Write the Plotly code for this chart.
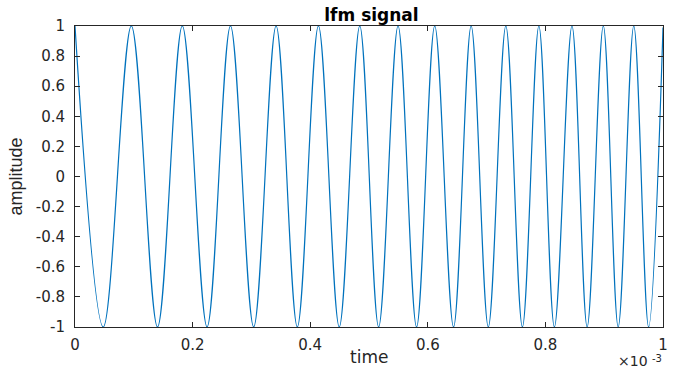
import plotly.graph_objects as go

# times in units of 1e-3 s
peak_times = [0.0, 0.0958, 0.1825, 0.2644, 0.342, 0.414, 0.4843, 0.5494, 0.6118,
              0.6737, 0.7327, 0.7889, 0.8452, 0.8985, 0.9503]
trough_times = [0.0481, 0.1403, 0.2246, 0.3039, 0.3781, 0.4494, 0.5164, 0.5809,
                0.6438, 0.7029, 0.7609, 0.8153, 0.8710, 0.9238, 0.9755]
end_time = [1.0]
end_value = [0.99]

x_tick_vals = [0, 0.2, 0.4, 0.6, 0.8, 1]
x_tick_text = ["0", "0.2", "0.4", "0.6", "0.8", "1"]
y_tick_vals = [-1, -0.8, -0.6, -0.4, -0.2, 0, 0.2, 0.4, 0.6, 0.8, 1]
y_tick_text = ["-1", "-0.8", "-0.6", "-0.4", "-0.2", "0", "0.2", "0.4", "0.6", "0.8", "1"]

pts = [(t, 1.0) for t in peak_times] + [(t, -1.0) for t in trough_times] + list(zip(end_time, end_value))
pts.sort()
xs = [p[0] for p in pts]
ys = [p[1] for p in pts]

FONT = "DejaVu Sans"
AX = "#262626"

fig = go.Figure()
fig.add_trace(go.Scatter(x=xs, y=ys, mode="lines",
                         line=dict(color="#0072BD", width=1.2, shape="spline", smoothing=1.0),
                         hoverinfo="skip", showlegend=False))

fig.update_layout(
    width=673, height=369,
    margin=dict(l=75, r=5, t=26, b=42),
    paper_bgcolor="white", plot_bgcolor="white",
    font=dict(family=FONT, size=15, color=AX),
    title=dict(text="<b>lfm signal</b>", x=0.552, xanchor="center", y=0.958, yanchor="middle",
               font=dict(family=FONT, size=17, color="black")),
    xaxis=dict(range=[0, 1], tickvals=x_tick_vals, ticktext=x_tick_text,
               showgrid=False, zeroline=False, showline=True, linecolor=AX, linewidth=1,
               mirror="ticks", ticks="inside", ticklen=5, tickcolor=AX,
               ticklabelstandoff=4, tickfont=dict(family=FONT, size=15, color=AX)),
    yaxis=dict(range=[-1, 1], tickvals=y_tick_vals, ticktext=y_tick_text,
               showgrid=False, zeroline=False, showline=True, linecolor=AX, linewidth=1,
               mirror="ticks", ticks="inside", ticklen=5, tickcolor=AX,
               ticklabelstandoff=6, tickfont=dict(family=FONT, size=15, color=AX)),
)

fig.add_annotation(text="time", xref="paper", yref="paper", x=0.5, y=-0.1,
                   xanchor="center", yanchor="middle", showarrow=False,
                   font=dict(family=FONT, size=17, color=AX))
fig.add_annotation(text="amplitude", xref="paper", yref="paper", x=-0.102, y=0.5,
                   xanchor="center", yanchor="middle", showarrow=False, textangle=-90,
                   font=dict(family="Liberation Sans Narrow, Liberation Sans", size=18, color=AX))
fig.add_annotation(text="×10", xref="paper", yref="paper", x=0.978, y=-0.113,
                   xanchor="right", yanchor="middle", showarrow=False,
                   font=dict(family=FONT, size=14, color=AX))
fig.add_annotation(text="-3", xref="paper", yref="paper", x=0.978, y=-0.104,
                   xanchor="left", yanchor="middle", showarrow=False,
                   font=dict(family=FONT, size=10, color=AX))

fig.write_html("out.html")
